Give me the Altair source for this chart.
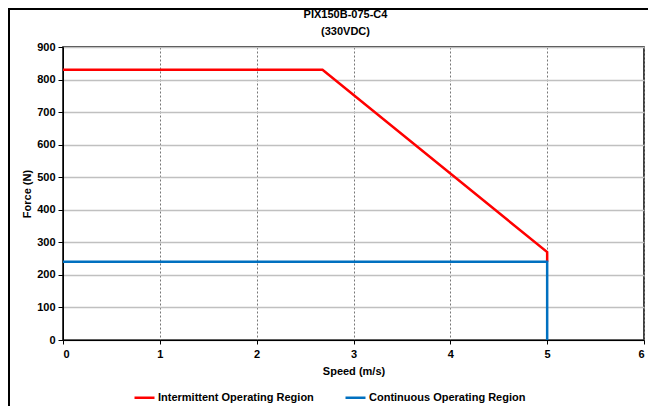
import altair as alt
import pandas as pd

# Data
inter_speed = [0, 2.68, 5.0, 5.0]
inter_force = [830, 830, 270, 240]
cont_speed = [0, 5.0, 5.0]
cont_force = [240, 240, 0]

series_names = ["Intermittent Operating Region", "Continuous Operating Region"]
series_colors = ["#ff0000", "#0070c0"]
x_ticks = [0, 1, 2, 3, 4, 5, 6]
y_ticks = [0, 100, 200, 300, 400, 500, 600, 700, 800, 900]
title_lines = ["PIX150B-075-C4", "(330VDC)"]

rows = []
for i, (s, f) in enumerate(zip(inter_speed, inter_force)):
    rows.append({"speed": s, "force": f, "series": series_names[0], "ord": i})
for i, (s, f) in enumerate(zip(cont_speed, cont_force)):
    rows.append({"speed": s, "force": f, "series": series_names[1], "ord": i})
df = pd.DataFrame(rows)

FONT = "Liberation Sans"

lines = alt.Chart(df).mark_line(strokeWidth=2.5, clip=False).encode(
    x=alt.X("speed:Q", title="Speed (m/s)",
            scale=alt.Scale(domain=[0, 6], nice=False),
            axis=alt.Axis(values=x_ticks, format="d", gridDash=[2, 2],
                          gridColor="#777777", gridWidth=1,
                          labelFontWeight="bold", titleFontWeight="bold",
                          labelFontSize=11, titleFontSize=11,
                          labelPadding=4, titlePadding=6, tickSize=4)),
    y=alt.Y("force:Q", title="Force (N)",
            scale=alt.Scale(domain=[0, 900], nice=False),
            axis=alt.Axis(values=y_ticks, gridColor="#c0c0c0", gridWidth=1.5,
                          labelFontWeight="bold", titleFontWeight="bold",
                          labelFontSize=11, titleFontSize=11,
                          labelPadding=3, titlePadding=4, tickSize=5)),
    color=alt.Color("series:N", scale=alt.Scale(domain=series_names, range=series_colors),
                    legend=alt.Legend(title=None, orient="none", direction="horizontal",
                                      legendX=70, legendY=339,
                                      symbolType="stroke", symbolStrokeWidth=2.5,
                                      symbolSize=400, labelFontSize=11,
                                      labelFontWeight="bold", columnPadding=26,
                                      labelLimit=300, symbolOffset=0,
                                      labelOffset=2)),
    order="ord:Q",
)

border = alt.Chart(pd.DataFrame({"a": [0]})).mark_rect(
    fill="white", fillOpacity=0, stroke="black", strokeWidth=2, clip=False
).encode(
    x=alt.value(-54), x2=alt.value(620), y=alt.value(-38), y2=alt.value(420)
)

chart = alt.layer(border, lines).properties(
    width=581,
    height=293,
    title=alt.TitleParams(title_lines, fontSize=11,
                          fontWeight="bold", font=FONT, anchor="middle",
                          dx=-8, dy=29, offset=0, lineHeight=17),
    autosize=alt.AutoSizeParams(type="none"),
    padding={"left": 55, "top": 39, "right": 4, "bottom": 66},
).configure(font=FONT).configure_view(
    stroke="black", strokeWidth=1.5
).configure_axis(
    domainColor="black", tickColor="black", labelColor="black", titleColor="black",
    labelFont=FONT, titleFont=FONT
).configure_legend(labelFont=FONT, labelColor="black")

chart.save("out.html", embed_options={"renderer": "svg", "actions": False})
